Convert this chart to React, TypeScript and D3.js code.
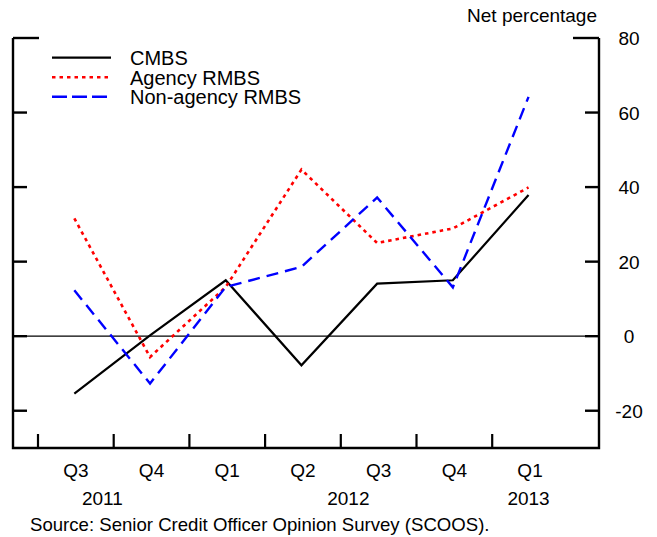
import React from "react";
import * as d3 from "d3";

const quarters = ["Q3", "Q4", "Q1", "Q2", "Q3", "Q4", "Q1"];
const years = [
  { label: "2011", pos: 0.35 },
  { label: "2012", pos: 3.6 },
  { label: "2013", pos: 5.98 },
];
const cmbs = [-15.4, 0.2, 15.0, -7.8, 14.1, 15.0, 37.9];
const agencyRmbs = [31.6, -5.6, 13.2, 44.7, 25.0, 28.9, 39.9];
const nonAgencyRmbs = [12.3, -12.7, 13.2, 18.6, 37.2, 13.1, 64.2];
const yTicks = [80, 60, 40, 20, 0, -20];

const series = [
  { name: "CMBS", values: cmbs, color: "#000000", dash: "none", width: 2.2 },
  { name: "Agency RMBS", values: agencyRmbs, color: "#ff0000", dash: "3.5,4", width: 2.6 },
  { name: "Non-agency RMBS", values: nonAgencyRmbs, color: "#0000ff", dash: "12,7", width: 2.4 },
];

export default function App() {
  const W = 657, H = 537;
  const left = 13, right = 599, top = 38, bottom = 448;
  const q0 = 38, qStep = 75.7;
  const x = d3.scaleLinear().domain([0, 1]).range([q0, q0 + qStep]);
  const y = d3.scaleLinear().domain([-30, 80]).range([bottom, top]);
  const line = d3.line<number>().x((_, i) => x(i + 0.48)).y((d) => y(d));
  const font = "Liberation Sans, Arial, sans-serif";
  const fs = 19;

  return (
    <svg width={W} height={H} style={{ position: "absolute", left: 0, top: 0, background: "#fff" }} fontFamily={font}>
      {/* axes frame */}
      <path d={`M${left},${y(80)}V${bottom}H${right}V${y(80)}`} fill="none" stroke="#000" strokeWidth={2.4} />
      {/* zero line */}
      <line x1={left} x2={right} y1={y(0)} y2={y(0)} stroke="#000" strokeWidth={1.2} />
      {/* y ticks */}
      {yTicks.map((t) => {
        const len = t === 80 ? 26 : 14;
        return (
          <g key={t}>
            <line x1={left} x2={left + len} y1={y(t)} y2={y(t)} stroke="#000" strokeWidth={2.4} />
            <line x1={right - len} x2={right} y1={y(t)} y2={y(t)} stroke="#000" strokeWidth={2.4} />
            <text x={629} y={y(t) + 7} textAnchor="middle" fontSize={fs} fill="#000">{t}</text>
          </g>
        );
      })}
      {/* x ticks */}
      {quarters.map((_, i) => (
        <line key={i} x1={x(i)} x2={x(i)} y1={bottom} y2={bottom - 14} stroke="#000" strokeWidth={2.2} />
      ))}
      {quarters.map((q, i) => (
        <text key={"q" + i} x={x(i + 0.5)} y={477} textAnchor="middle" fontSize={fs} fill="#000">{q}</text>
      ))}
      {years.map((yr) => (
        <text key={yr.label} x={x(yr.pos + 0.5)} y={505} textAnchor="middle" fontSize={fs} fill="#000">{yr.label}</text>
      ))}
      <text x={597} y={22} textAnchor="end" fontSize={fs} fill="#000">Net percentage</text>
      {/* series */}
      {series.map((s) => (
        <path key={s.name} d={line(s.values) || ""} fill="none" stroke={s.color} strokeWidth={s.width} strokeDasharray={s.dash} />
      ))}
      {/* legend */}
      {series.map((s, i) => (
        <g key={"leg" + i}>
          <line x1={52} x2={111} y1={57.7 + i * 19.5} y2={57.7 + i * 19.5} stroke={s.color} strokeWidth={s.width} strokeDasharray={s.dash === "12,7" ? "15,5" : s.dash} />
          <text x={130} y={65 + i * 19.5} fontSize={fs + 1} fill="#000">{s.name}</text>
        </g>
      ))}
      <text x={30} y={531} fontSize={18.6} fill="#000">Source: Senior Credit Officer Opinion Survey (SCOOS).</text>
    </svg>
  );
}
